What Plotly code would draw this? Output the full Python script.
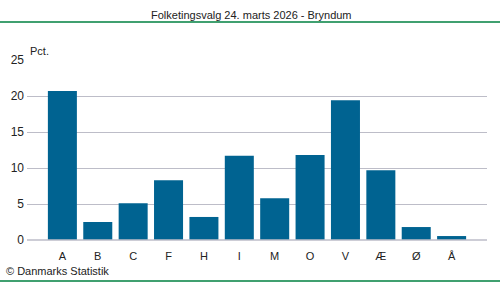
import plotly.graph_objects as go

categories = ["A", "B", "C", "F", "H", "I", "M", "O", "V", "Æ", "Ø", "Å"]
values = [20.7, 2.5, 5.1, 8.3, 3.2, 11.7, 5.8, 11.8, 19.4, 9.7, 1.8, 0.55]
y_ticks = [0, 5, 10, 15, 20, 25]

W, H = 500, 282
ml, mr, mt, mb = 27, 13, 60, 42
pw, ph = W - ml - mr, H - mt - mb

def px_x(p):
    return (p - ml) / pw

def px_y(p):
    return (H - mb - p) / ph

fig = go.Figure(go.Bar(
    x=list(range(len(categories))), y=values,
    marker=dict(color="#006391", line=dict(width=0)),
    width=0.82,
))

font = "Liberation Sans, Arial, sans-serif"
fs = 11
fig.update_layout(
    width=W, height=H,
    margin=dict(l=ml, r=mr, t=mt, b=mb, autoexpand=False),
    paper_bgcolor="white", plot_bgcolor="white",
    showlegend=False,
    font=dict(family=font, size=fs, color="#222222"),
    xaxis=dict(
        range=[-1, 12], automargin=False,
        tickmode="array", tickvals=list(range(len(categories))), ticktext=categories,
        showgrid=False, zeroline=False, showline=False, ticks="",
        ticklabelstandoff=8,
        tickfont=dict(size=fs, color="#222222"),
        fixedrange=True,
    ),
    yaxis=dict(
        range=[0, 25], automargin=False,
        tickmode="array", tickvals=y_ticks, ticktext=[str(v) for v in y_ticks],
        showgrid=True, gridcolor="#bdbdc8", gridwidth=1,
        zeroline=False, showline=False, ticks="", ticklen=0,
        ticklabelstandoff=2,
        tickfont=dict(size=fs + 1, color="#222222"),
        fixedrange=True,
    ),
    shapes=[
        dict(type="line", xref="paper", yref="paper",
             x0=px_x(0), x1=px_x(W), y0=px_y(22), y1=px_y(22),
             line=dict(color="#008040", width=1.5)),
        dict(type="line", xref="paper", yref="paper",
             x0=px_x(0), x1=px_x(W), y0=px_y(281), y1=px_y(281),
             line=dict(color="#008040", width=1.5)),
        dict(type="line", xref="paper", yref="paper",
             x0=0, x1=1, y0=0, y1=0,
             line=dict(color="#bdbdc8", width=1.5)),
    ],
    annotations=[
        dict(text="Folketingsvalg 24. marts 2026 - Bryndum", xref="paper", yref="paper",
             x=px_x(251), y=px_y(15), xanchor="center", yanchor="middle",
             showarrow=False, font=dict(size=fs, color="#222222")),
        dict(text="Pct.", xref="paper", yref="paper",
             x=px_x(28), y=px_y(51), xanchor="left", yanchor="middle",
             showarrow=False, font=dict(size=fs, color="#222222")),
        dict(text="© Danmarks Statistik", xref="paper", yref="paper",
             x=px_x(4), y=px_y(271), xanchor="left", yanchor="middle",
             showarrow=False, font=dict(size=fs, color="#222222")),
    ],
)

fig.write_html("out.html")
